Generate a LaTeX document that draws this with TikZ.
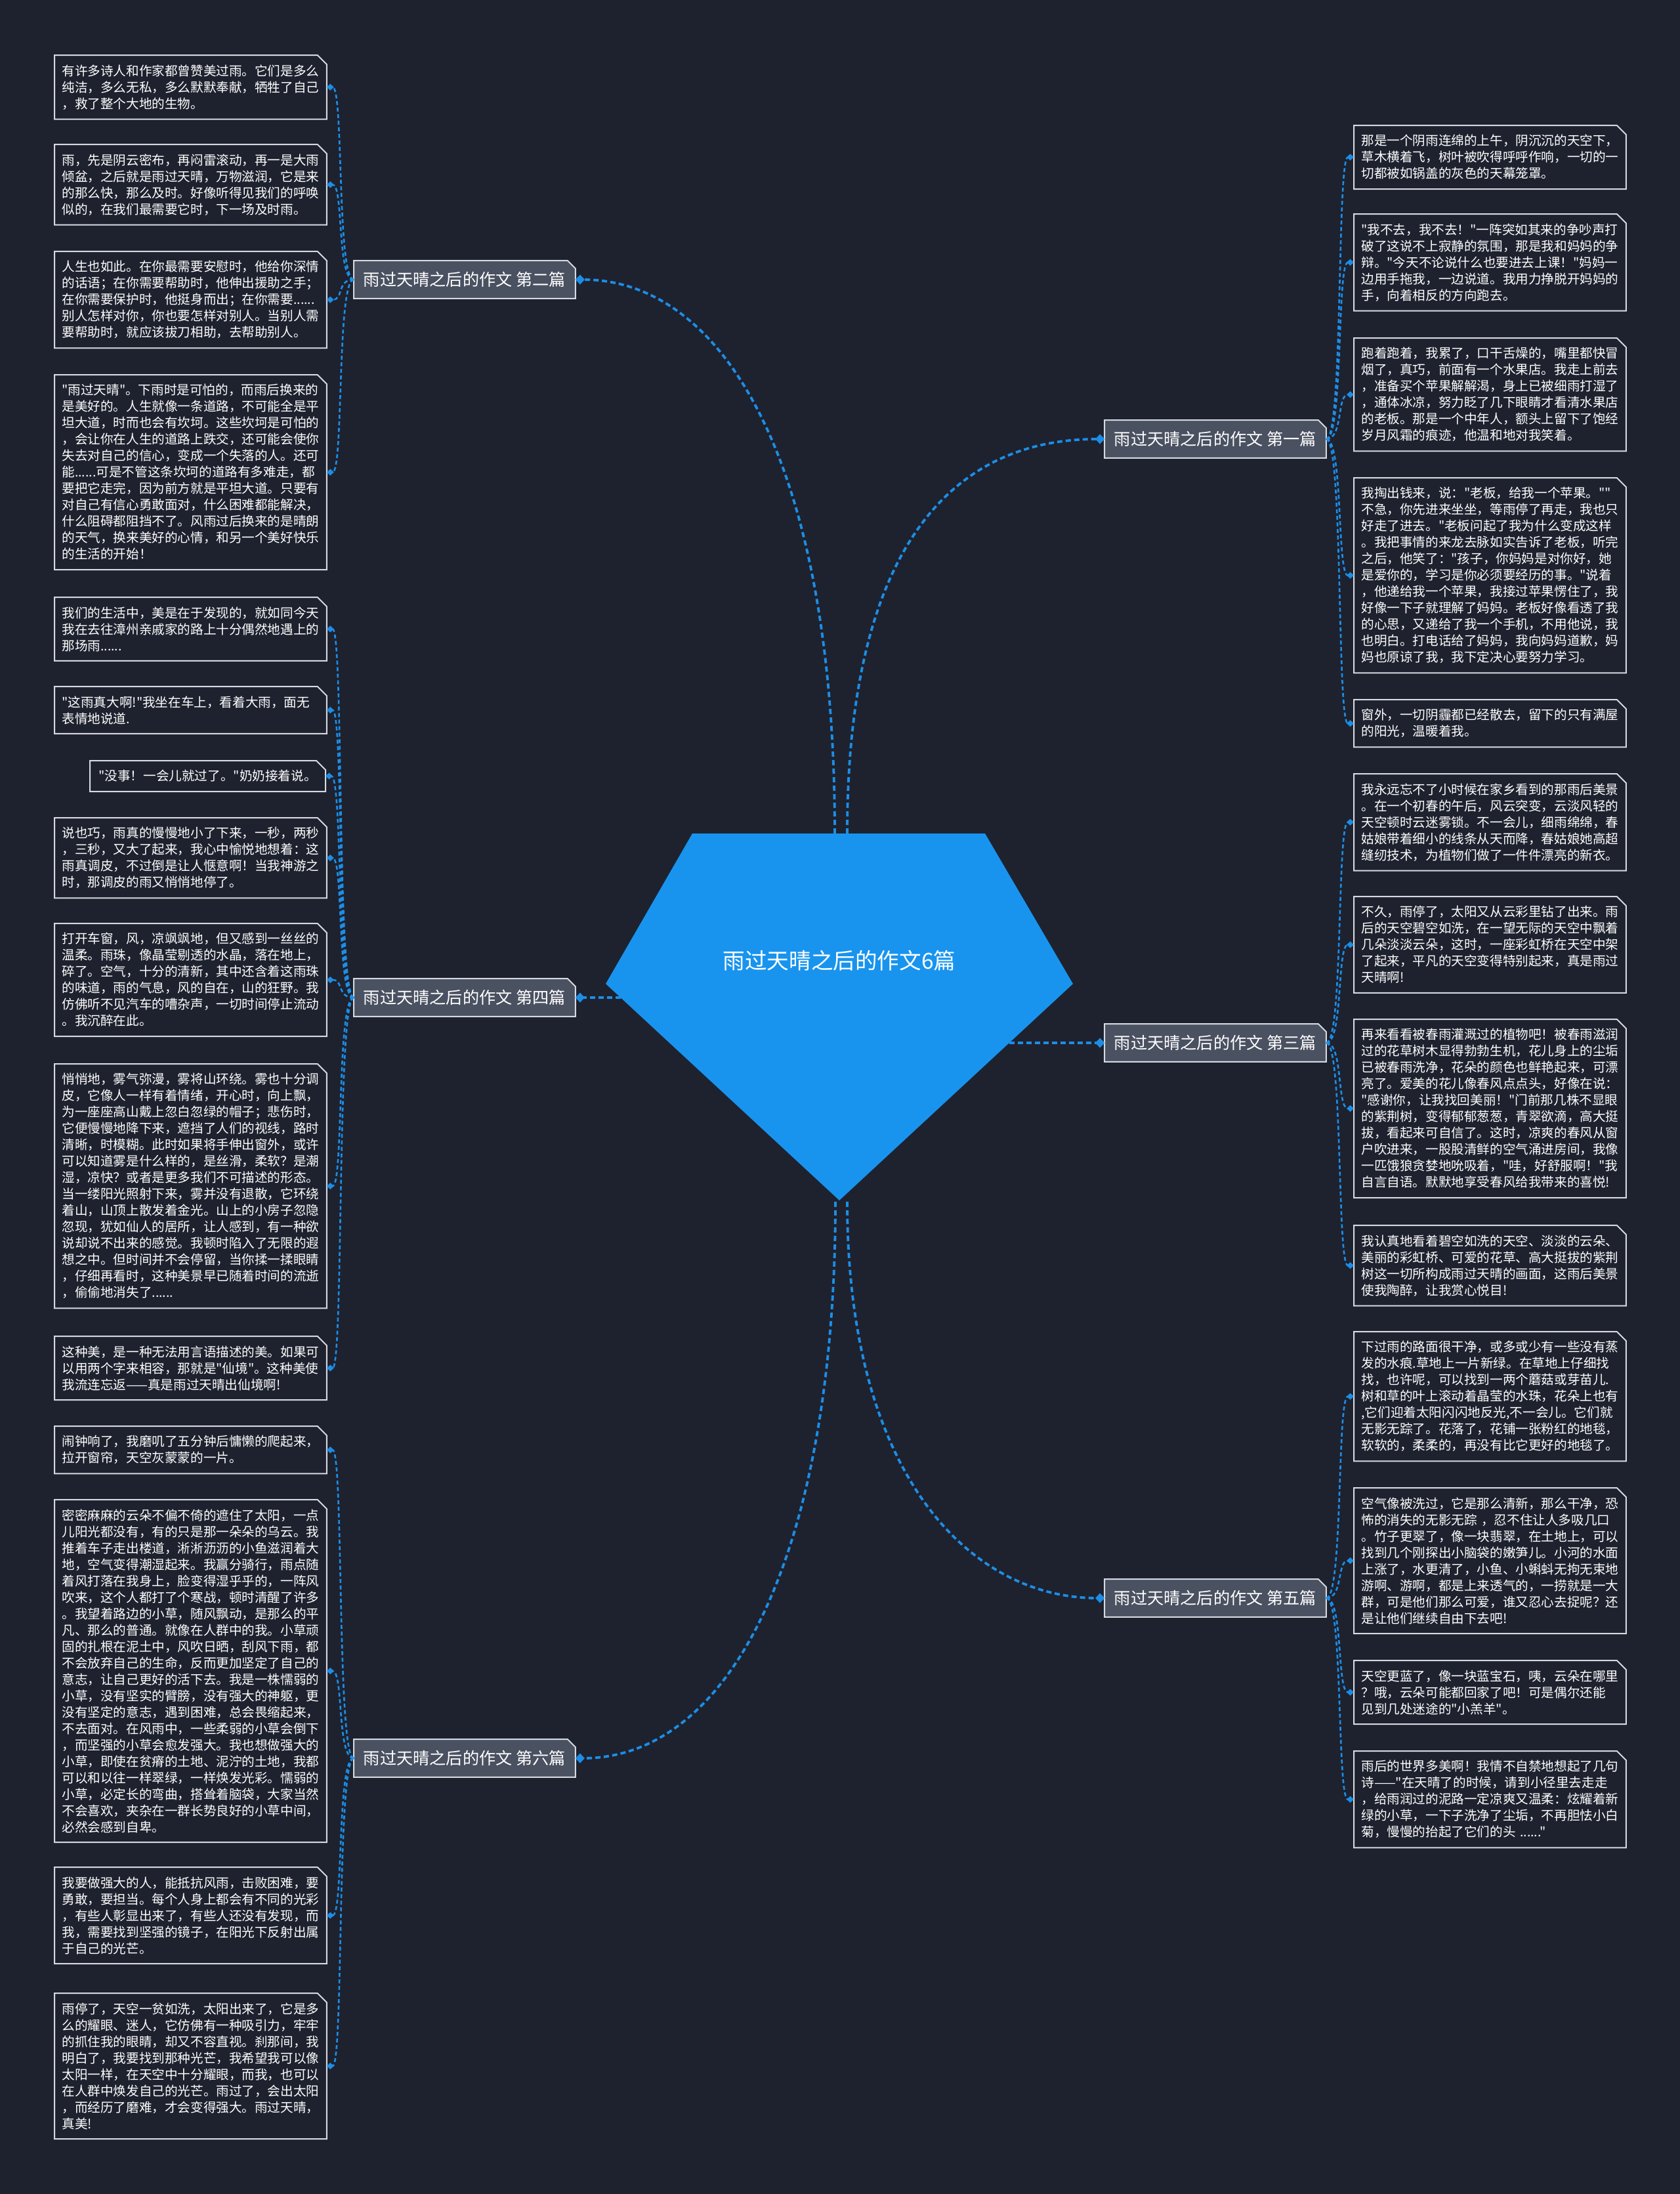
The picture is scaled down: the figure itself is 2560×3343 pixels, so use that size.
\documentclass[tikz,border=0pt]{standalone}
\usepackage{fontspec}
\newfontfamily\cjk{Noto Sans CJK SC}
\usetikzlibrary{arrows.meta, backgrounds}

\definecolor{bgcol}{RGB}{30,34,47}
\definecolor{branchcol}{RGB}{74,81,97}
\definecolor{rimcol}{RGB}{214,217,223}
\definecolor{rootcol}{RGB}{24,148,238}
\definecolor{linkcol}{RGB}{28,142,230}

\tikzset{
  leaf/.style={font=\cjk\fontsize{9.8pt}{12.5pt}\selectfont, text=white,
               align=left, text width=196pt, inner xsep=5.5pt, inner ysep=7pt,
               anchor=north west},
  shortleaf/.style={font=\cjk\fontsize{9.8pt}{12.5pt}\selectfont, text=white,
               inner xsep=6.5pt, inner ysep=7pt, anchor=north east},
  branch/.style={font=\cjk\fontsize{12.6pt}{14pt}\selectfont, text=white,
               minimum width=168.5pt, minimum height=28.5pt, inner xsep=0pt},
  root/.style={font=\cjk\fontsize{16.8pt}{20pt}\selectfont, text=white},
  link/.style={draw=linkcol, line width=1.9pt, dash pattern=on 4pt off 2.5pt,
               -{Diamond[length=7pt,width=7.5pt]}},
  twig/.style={draw=linkcol, line width=1.3pt, dash pattern=on 3pt off 2pt,
               -{Diamond[length=5.5pt,width=5pt]}},
  rim/.style={draw=rimcol, line width=1pt},
}

\begin{document}
\begin{tikzpicture}[x=0.5pt, y=-0.5pt]
		\useasboundingbox (0,0) rectangle (2560,3343);

		% centre
		\fill[rootcol] (1055,1270) -- (1501,1270) -- (1635,1499) -- (1279,1829) -- (923,1499) -- cycle;
		\node[root] (root) at (1279,1464) {雨过天晴之后的作文6篇};
		\coordinate (rootn1) at (1272,1270);
		\coordinate (rootn2) at (1291,1270);
		\coordinate (roots1) at (1273,1831);
		\coordinate (roots2) at (1291,1831);
		\coordinate (rootw)  at (946,1520);
		\coordinate (roote)  at (1538,1589);

		\node[branch] (b1) at (1852, 669) {雨过天晴之后的作文 第一篇};
		\node[branch] (b2) at ( 708, 426) {雨过天晴之后的作文 第二篇};
		\node[branch] (b3) at (1852,1589) {雨过天晴之后的作文 第三篇};
		\node[branch] (b4) at ( 708,1520) {雨过天晴之后的作文 第四篇};
		\node[branch] (b5) at (1852,2435) {雨过天晴之后的作文 第五篇};
		\node[branch] (b6) at ( 708,2679) {雨过天晴之后的作文 第六篇};

		% left side
		\node[leaf] (l1) at (83,84) {有许多诗人和作家都曾赞美过雨。它们是多么\\纯洁，多么无私，多么默默奉献，牺牲了自己\\，救了整个大地的生物。};
		\node[leaf] (l2) at (83,220) {雨，先是阴云密布，再闷雷滚动，再一是大雨\\倾盆，之后就是雨过天晴，万物滋润，它是来\\的那么快，那么及时。好像听得见我们的呼唤\\似的，在我们最需要它时，下一场及时雨。};
		\node[leaf] (l3) at (83,383) {人生也如此。在你最需要安慰时，他给你深情\\的话语；在你需要帮助时，他伸出援助之手；\\在你需要保护时，他挺身而出；在你需要......\\别人怎样对你，你也要怎样对别人。当别人需\\要帮助时，就应该拔刀相助，去帮助别人。};
		\node[leaf] (l4) at (83,571) {"雨过天晴"。下雨时是可怕的，而雨后换来的\\是美好的。人生就像一条道路，不可能全是平\\坦大道，时而也会有坎坷。这些坎坷是可怕的\\，会让你在人生的道路上跌交，还可能会使你\\失去对自己的信心，变成一个失落的人。还可\\能......可是不管这条坎坷的道路有多难走，都\\要把它走完，因为前方就是平坦大道。只要有\\对自己有信心勇敢面对，什么困难都能解决，\\什么阻碍都阻挡不了。风雨过后换来的是晴朗\\的天气，换来美好的心情，和另一个美好快乐\\的生活的开始！};

		\node[leaf] (l5) at (83,910) {我们的生活中，美是在于发现的，就如同今天\\我在去往漳州亲戚家的路上十分偶然地遇上的\\那场雨......};
		\node[leaf] (l6) at (83,1046) {"这雨真大啊!"我坐在车上，看着大雨，面无\\表情地说道.};
		\node[shortleaf] (l7) at (496,1159) {"没事！一会儿就过了。"奶奶接着说。};
		\node[leaf] (l8) at (83,1246) {说也巧，雨真的慢慢地小了下来，一秒，两秒\\，三秒，又大了起来，我心中愉悦地想着：这\\雨真调皮，不过倒是让人惬意啊！当我神游之\\时，那调皮的雨又悄悄地停了。};
		\node[leaf] (l9) at (83,1407) {打开车窗，风，凉飒飒地，但又感到一丝丝的\\温柔。雨珠，像晶莹剔透的水晶，落在地上，\\碎了。空气，十分的清新，其中还含着这雨珠\\的味道，雨的气息，风的自在，山的狂野。我\\仿佛听不见汽车的嘈杂声，一切时间停止流动\\。我沉醉在此。};
		\node[leaf] (l10) at (83,1621) {悄悄地，雾气弥漫，雾将山环绕。雾也十分调\\皮，它像人一样有着情绪，开心时，向上飘，\\为一座座高山戴上忽白忽绿的帽子；悲伤时，\\它便慢慢地降下来，遮挡了人们的视线，路时\\清晰，时模糊。此时如果将手伸出窗外，或许\\可以知道雾是什么样的，是丝滑，柔软？是潮\\湿，凉快？或者是更多我们不可描述的形态。\\当一缕阳光照射下来，雾并没有退散，它环绕\\着山，山顶上散发着金光。山上的小房子忽隐\\忽现，犹如仙人的居所，让人感到，有一种欲\\说却说不出来的感觉。我顿时陷入了无限的遐\\想之中。但时间并不会停留，当你揉一揉眼睛\\，仔细再看时，这种美景早已随着时间的流逝\\，偷偷地消失了......};
		\node[leaf] (l11) at (83,2036) {这种美，是一种无法用言语描述的美。如果可\\以用两个字来相容，那就是"仙境"。这种美使\\我流连忘返——真是雨过天晴出仙境啊!};

		\node[leaf] (l12) at (83,2173) {闹钟响了，我磨叽了五分钟后慵懒的爬起来，\\拉开窗帘，天空灰蒙蒙的一片。};
		\node[leaf] (l13) at (83,2285) {密密麻麻的云朵不偏不倚的遮住了太阳，一点\\儿阳光都没有，有的只是那一朵朵的乌云。我\\推着车子走出楼道，淅淅沥沥的小鱼滋润着大\\地，空气变得潮湿起来。我赢分骑行，雨点随\\着风打落在我身上，脸变得湿乎乎的，一阵风\\吹来，这个人都打了个寒战，顿时清醒了许多\\。我望着路边的小草，随风飘动，是那么的平\\凡、那么的普通。就像在人群中的我。小草顽\\固的扎根在泥土中，风吹日晒，刮风下雨，都\\不会放弃自己的生命，反而更加坚定了自己的\\意志，让自己更好的活下去。我是一株懦弱的\\小草，没有坚实的臂膀，没有强大的神躯，更\\没有坚定的意志，遇到困难，总会畏缩起来，\\不去面对。在风雨中，一些柔弱的小草会倒下\\，而坚强的小草会愈发强大。我也想做强大的\\小草，即使在贫瘠的土地、泥泞的土地，我都\\可以和以往一样翠绿，一样焕发光彩。懦弱的\\小草，必定长的弯曲，搭耸着脑袋，大家当然\\不会喜欢，夹杂在一群长势良好的小草中间，\\必然会感到自卑。};
		\node[leaf] (l14) at (83,2845) {我要做强大的人，能抵抗风雨，击败困难，要\\勇敢，要担当。每个人身上都会有不同的光彩\\，有些人彰显出来了，有些人还没有发现，而\\我，需要找到坚强的镜子，在阳光下反射出属\\于自己的光芒。};
		\node[leaf] (l15) at (83,3037) {雨停了，天空一贫如洗，太阳出来了，它是多\\么的耀眼、迷人，它仿佛有一种吸引力，牢牢\\的抓住我的眼睛，却又不容直视。刹那间，我\\明白了，我要找到那种光芒，我希望我可以像\\太阳一样，在天空中十分耀眼，而我，也可以\\在人群中焕发自己的光芒。雨过了，会出太阳\\，而经历了磨难，才会变得强大。雨过天晴，\\真美!};

		% right side
		\node[leaf] (r1) at (2063,191) {那是一个阴雨连绵的上午，阴沉沉的天空下，\\草木横着飞，树叶被吹得呼呼作响，一切的一\\切都被如锅盖的灰色的天幕笼罩。};
		\node[leaf] (r2) at (2063,326) {"我不去，我不去！"一阵突如其来的争吵声打\\破了这说不上寂静的氛围，那是我和妈妈的争\\辩。"今天不论说什么也要进去上课！"妈妈一\\边用手拖我，一边说道。我用力挣脱开妈妈的\\手，向着相反的方向跑去。};
		\node[leaf] (r3) at (2063,515) {跑着跑着，我累了，口干舌燥的，嘴里都快冒\\烟了，真巧，前面有一个水果店。我走上前去\\，准备买个苹果解解渴，身上已被细雨打湿了\\，通体冰凉，努力眨了几下眼睛才看清水果店\\的老板。那是一个中年人，额头上留下了饱经\\岁月风霜的痕迹，他温和地对我笑着。};
		\node[leaf] (r4) at (2063,728) {我掏出钱来，说："老板，给我一个苹果。""\\不急，你先进来坐坐，等雨停了再走，我也只\\好走了进去。"老板问起了我为什么变成这样\\。我把事情的来龙去脉如实告诉了老板，听完\\之后，他笑了："孩子，你妈妈是对你好，她\\是爱你的，学习是你必须要经历的事。"说着\\，他递给我一个苹果，我接过苹果愣住了，我\\好像一下子就理解了妈妈。老板好像看透了我\\的心思，又递给了我一个手机，不用他说，我\\也明白。打电话给了妈妈，我向妈妈道歉，妈\\妈也原谅了我，我下定决心要努力学习。};
		\node[leaf] (r5) at (2063,1066) {窗外，一切阴霾都已经散去，留下的只有满屋\\的阳光，温暖着我。};

		\node[leaf] (r6) at (2063,1179) {我永远忘不了小时候在家乡看到的那雨后美景\\。在一个初春的午后，风云突变，云淡风轻的\\天空顿时云迷雾锁。不一会儿，细雨绵绵，春\\姑娘带着细小的线条从天而降，春姑娘她高超\\缝纫技术，为植物们做了一件件漂亮的新衣。};
		\node[leaf] (r7) at (2063,1366) {不久，雨停了，太阳又从云彩里钻了出来。雨\\后的天空碧空如洗，在一望无际的天空中飘着\\几朵淡淡云朵，这时，一座彩虹桥在天空中架\\了起来，平凡的天空变得特别起来，真是雨过\\天晴啊!};
		\node[leaf] (r8) at (2063,1553) {再来看看被春雨灌溉过的植物吧！被春雨滋润\\过的花草树木显得勃勃生机，花儿身上的尘垢\\已被春雨洗净，花朵的颜色也鲜艳起来，可漂\\亮了。爱美的花儿像春风点点头，好像在说：\\"感谢你，让我找回美丽！"门前那几株不显眼\\的紫荆树，变得郁郁葱葱，青翠欲滴，高大挺\\拔，看起来可自信了。这时，凉爽的春风从窗\\户吹进来，一股股清鲜的空气涌进房间，我像\\一匹饿狼贪婪地吮吸着，"哇，好舒服啊！"我\\自言自语。默默地享受春风给我带来的喜悦!};
		\node[leaf] (r9) at (2063,1867) {我认真地看着碧空如洗的天空、淡淡的云朵、\\美丽的彩虹桥、可爱的花草、高大挺拔的紫荆\\树这一切所构成雨过天晴的画面，这雨后美景\\使我陶醉，让我赏心悦目!};

		\node[leaf] (r10) at (2063,2029) {下过雨的路面很干净，或多或少有一些没有蒸\\发的水痕.草地上一片新绿。在草地上仔细找\\找，也许呢，可以找到一两个蘑菇或芽苗儿.\\树和草的叶上滚动着晶莹的水珠，花朵上也有\\,它们迎着太阳闪闪地反光,不一会儿。它们就\\无影无踪了。花落了，花铺一张粉红的地毯，\\软软的，柔柔的，再没有比它更好的地毯了。};
		\node[leaf] (r11) at (2063,2267) {空气像被洗过，它是那么清新，那么干净，恐\\怖的消失的无影无踪 ，忍不住让人多吸几口\\。竹子更翠了，像一块翡翠，在土地上，可以\\找到几个刚探出小脑袋的嫩笋儿。小河的水面\\上涨了，水更清了，小鱼、小蝌蚪无拘无束地\\游啊、游啊，都是上来透气的，一捞就是一大\\群，可是他们那么可爱，谁又忍心去捉呢？还\\是让他们继续自由下去吧!};
		\node[leaf] (r12) at (2063,2530) {天空更蓝了，像一块蓝宝石，咦，云朵在哪里\\？哦，云朵可能都回家了吧！可是偶尔还能\\见到几处迷途的"小羔羊"。};
		\node[leaf] (r13) at (2063,2668) {雨后的世界多美啊！我情不自禁地想起了几句\\诗——"在天晴了的时候，请到小径里去走走\\，给雨润过的泥路一定凉爽又温柔：炫耀着新\\绿的小草，一下子洗净了尘垢，不再胆怯小白\\菊，慢慢的抬起了它们的头 ......"};

		% boxes with the cut corner
		\begin{scope}[on background layer]
			\fill[bgcol] (0,0) rectangle (2560,3343);
			\foreach \n in {l1,l2,l3,l4,l5,l6,l7,l8,l9,l10,l11,l12,l13,l14,l15,
			                r1,r2,r3,r4,r5,r6,r7,r8,r9,r10,r11,r12,r13}
				\filldraw[rim, fill=bgcol] (\n.south west) -- (\n.north west) -- ([xshift=-7pt]\n.north east)
				        -- ([yshift=-7pt]\n.north east) -- (\n.south east) -- cycle;
			\foreach \n in {b1,b2,b3,b4,b5,b6}
				\filldraw[rim, fill=branchcol] (\n.south west) -- (\n.north west) -- ([xshift=-6pt]\n.north east)
				        -- ([yshift=-6pt]\n.north east) -- (\n.south east) -- cycle;
		\end{scope}

		\draw[link] (rootn1) .. controls (1272,700) and (1100,426) .. (b2.east);
		\draw[link] (rootn2) .. controls (1291,850) and (1440,669) .. (b1.west);
		\draw[link] (rootw) -- (b4.east);
		\draw[link] (roote) -- (b3.west);
		\draw[link] (roots2) .. controls (1291,2250) and (1480,2435) .. (b5.west);
		\draw[link] (roots1) .. controls (1273,2350) and (1120,2679) .. (b6.east);

		\foreach \l in {l1,l2,l3,l4}
			\draw[twig] (b2.west) .. controls +(-26,0) and +(26,0) .. (\l.east);
		\foreach \l in {l5,l6,l7,l8,l9,l10,l11}
			\draw[twig] (b4.west) .. controls +(-26,0) and +(26,0) .. (\l.east);
		\foreach \l in {l12,l13,l14,l15}
			\draw[twig] (b6.west) .. controls +(-26,0) and +(26,0) .. (\l.east);
		\foreach \r in {r1,r2,r3,r4,r5}
			\draw[twig] (b1.east) .. controls +(26,0) and +(-26,0) .. (\r.west);
		\foreach \r in {r6,r7,r8,r9}
			\draw[twig] (b3.east) .. controls +(26,0) and +(-26,0) .. (\r.west);
		\foreach \r in {r10,r11,r12,r13}
			\draw[twig] (b5.east) .. controls +(26,0) and +(-26,0) .. (\r.west);
	\end{tikzpicture}
\end{document}
